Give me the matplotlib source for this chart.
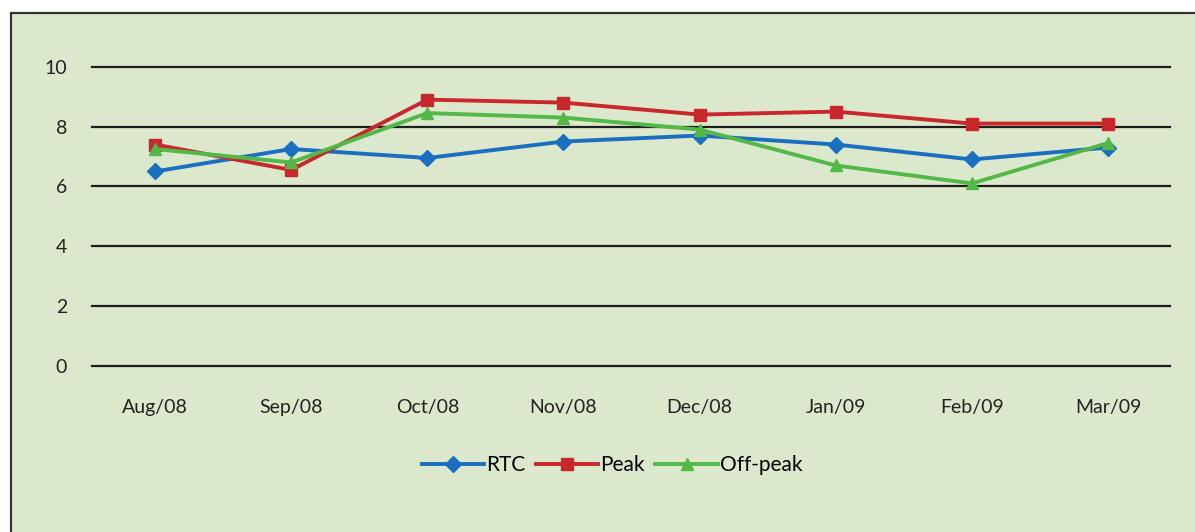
import matplotlib
matplotlib.use('Agg')
import matplotlib.pyplot as plt
from matplotlib.patches import Rectangle

months = ['Aug/08', 'Sep/08', 'Oct/08', 'Nov/08', 'Dec/08', 'Jan/09', 'Feb/09', 'Mar/09']
rtc = [6.5, 7.25, 6.95, 7.5, 7.7, 7.4, 6.9, 7.3]
peak = [7.4, 6.55, 8.9, 8.8, 8.4, 8.5, 8.1, 8.1]
offpeak = [7.25, 6.8, 8.45, 8.3, 7.9, 6.7, 6.1, 7.45]
yticks = [0, 2, 4, 6, 8, 10]

BG = '#dce8cc'


def main():
    plt.rcParams['font.family'] = ['Lato', 'DejaVu Sans']
    fig = plt.figure(figsize=(11.95, 5.32), dpi=100)
    fig.patch.set_facecolor('white')
    # chart area box with dark border
    fig.patches.append(Rectangle((11 / 1195, -0.01), 1.02, 1 - 13 / 532 + 0.01,
                                 transform=fig.transFigure, facecolor=BG,
                                 edgecolor='#333333', linewidth=1.6, zorder=-10))

    ax = fig.add_axes([92 / 1195, 166 / 532, 1078 / 1195, 299.3 / 532])
    ax.set_zorder(1)
    ax.set_facecolor('none')
    x = list(range(len(months)))

    for y in yticks:
        ax.axhline(y, color='#1e1e1e', linewidth=1.6, zorder=1, clip_on=False)

    ax.plot(x, rtc, color='#1b6fc0', linewidth=2.8, marker='D', markersize=8,
            label='RTC', zorder=3, clip_on=False)
    ax.plot(x, peak, color='#c8282c', linewidth=2.8, marker='s', markersize=9,
            label='Peak', zorder=4, clip_on=False)
    ax.plot(x, offpeak, color='#52b848', linewidth=2.8, marker='^', markersize=9,
            label='Off-peak', zorder=5, clip_on=False)

    ax.set_ylim(0, 10)
    ax.set_xlim(-0.463, 7.455)
    ax.set_yticks(yticks)
    ax.set_xticks(x)
    ax.set_xticklabels(months)
    for s in ax.spines.values():
        s.set_visible(False)
    ax.tick_params(axis='both', length=0, labelsize=14, colors='#222222')
    ax.tick_params(axis='y', pad=18)
    ax.tick_params(axis='x', pad=24)

    fig.legend(loc='center', bbox_to_anchor=(612 / 1195, 1 - 465 / 532), ncol=3,
               frameon=False, handlelength=3.0, handletextpad=0.1,
               columnspacing=0.5, prop={'family': ['Lato', 'DejaVu Sans'], 'size': 15})

    fig.savefig('out.png', dpi=100, facecolor=fig.get_facecolor())


if __name__ == '__main__':
    main()
